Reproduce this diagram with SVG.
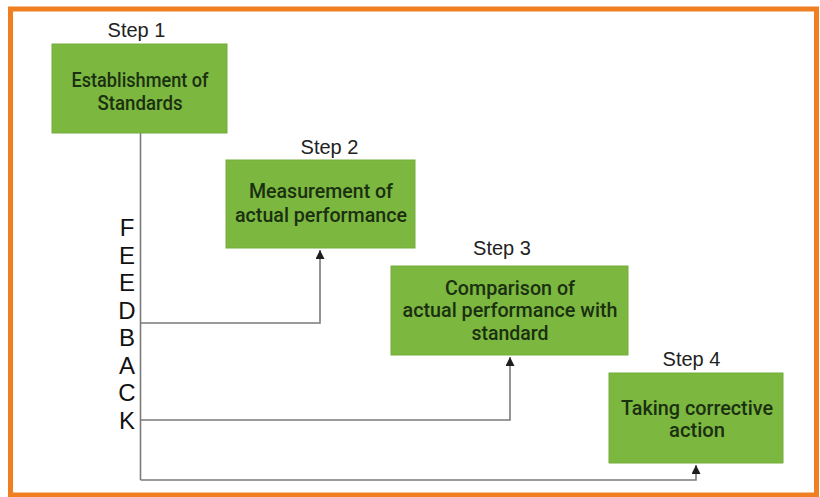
<svg xmlns="http://www.w3.org/2000/svg" width="820" height="497" viewBox="0 0 820 497">
<style>
.frame{fill:#ffffff;stroke:#f07f22;stroke-width:5}
.box{fill:#7cb740;stroke:#74ad3a;stroke-width:1}
.bt{font-family:Roboto,"Liberation Sans",sans-serif;font-size:21px;font-weight:500;fill:#1a3010;text-anchor:middle}
.st{font-family:"Liberation Sans",Arial,sans-serif;font-size:20px;fill:#222;text-anchor:middle}
.fb{font-family:"Liberation Sans",Arial,sans-serif;font-size:24px;fill:#111;text-anchor:middle}
.ln{fill:none;stroke:#7a7a7a;stroke-width:1.6}
</style>
<defs>
<marker id="ah" viewBox="0 0 10 10" refX="10" refY="5" markerWidth="9" markerHeight="9" markerUnits="userSpaceOnUse" orient="auto">
<path d="M0,0 L10,5 L0,10 z" fill="#1e1e1e"/>
</marker>
</defs>
<rect class="frame" x="10.5" y="9" width="806" height="486"/>
<g id="connectors">
<path class="ln" d="M140.5,133 V480"/>
<path class="ln" d="M140.5,323 H320 V250" marker-end="url(#ah)"/>
<path class="ln" d="M140.5,420 H510 V357" marker-end="url(#ah)"/>
<path class="ln" d="M140.5,480 H696 V465" marker-end="url(#ah)"/>
</g>
<g id="feedback">
<text class="fb" x="127" y="236">F</text>
<text class="fb" x="127" y="263.5">E</text>
<text class="fb" x="127" y="291">E</text>
<text class="fb" x="127" y="318.5">D</text>
<text class="fb" x="127" y="346">B</text>
<text class="fb" x="127" y="373.5">A</text>
<text class="fb" x="127" y="401">C</text>
<text class="fb" x="127" y="428.5">K</text>
</g>
<g id="step1">
<text class="st" x="136.5" y="37">Step 1</text>
<rect class="box" x="52" y="44" width="175" height="89"/>
<text class="bt" x="140" y="87" textLength="137" lengthAdjust="spacingAndGlyphs">Establishment of</text>
<text class="bt" x="140" y="110" textLength="85" lengthAdjust="spacingAndGlyphs">Standards</text>
</g>
<g id="step2">
<text class="st" x="329.5" y="154">Step 2</text>
<rect class="box" x="226" y="160" width="189" height="88"/>
<text class="bt" x="321" y="198" textLength="144" lengthAdjust="spacingAndGlyphs">Measurement of</text>
<text class="bt" x="321" y="222" textLength="172" lengthAdjust="spacingAndGlyphs">actual performance</text>
</g>
<g id="step3">
<text class="st" x="502" y="255">Step 3</text>
<rect class="box" x="391" y="266" width="237" height="89"/>
<text class="bt" x="510" y="295" textLength="130" lengthAdjust="spacingAndGlyphs">Comparison of</text>
<text class="bt" x="510" y="317" textLength="215" lengthAdjust="spacingAndGlyphs">actual performance with</text>
<text class="bt" x="510" y="340" textLength="77" lengthAdjust="spacingAndGlyphs">standard</text>
</g>
<g id="step4">
<text class="st" x="691.5" y="366">Step 4</text>
<rect class="box" x="609" y="373" width="174" height="90"/>
<text class="bt" x="697" y="415" textLength="152" lengthAdjust="spacingAndGlyphs">Taking corrective</text>
<text class="bt" x="697" y="437" textLength="56" lengthAdjust="spacingAndGlyphs">action</text>
</g>
</svg>
